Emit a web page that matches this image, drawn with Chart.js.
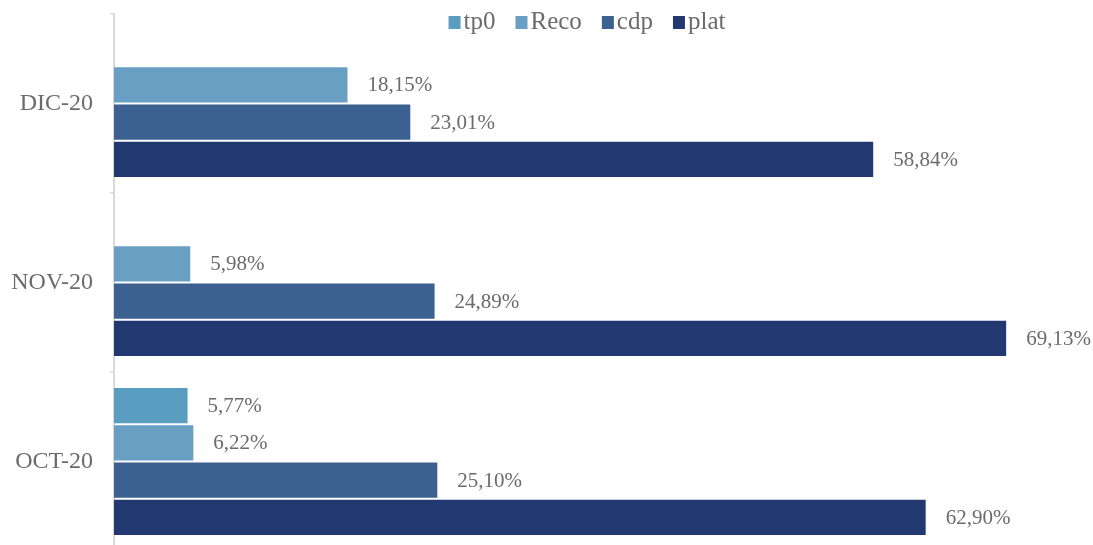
<!DOCTYPE html>
<html>
<head>
<meta charset="utf-8">
<script src="https://cdn.jsdelivr.net/npm/chart.js@4.4.1/dist/chart.umd.min.js"></script>
<style>
  html, body { margin: 0; padding: 0; background: #ffffff; width: 1093px; height: 545px; overflow: hidden; }
  #wrap { position: relative; width: 1093px; height: 552px; }
</style>
</head>
<body>
<div id="wrap"><canvas id="chart"></canvas></div>
<script>
// Monthly share per channel (%)
const months = ['DIC-20', 'NOV-20', 'OCT-20'];
const seriesNames = ['tp0', 'Reco', 'cdp', 'plat'];
const tp0 = [null, null, 5.77];
const reco = [18.15, 5.98, 6.22];
const cdp = [23.01, 24.89, 25.10];
const plat = [58.84, 69.13, 62.90];
const seriesColors = ['#5b9cc1', '#6a9fc4', '#3c608f', '#213970'];

const FONT = "'Liberation Serif', 'DejaVu Serif', serif";
const TEXT = '#6b6b6b';

function fmt(v) {
  return v.toFixed(2).replace('.', ',') + '%';
}

// Value labels just past the end of each bar
const valueLabels = {
  id: 'valueLabels',
  afterDatasetsDraw(chart) {
    const ctx = chart.ctx;
    ctx.save();
    ctx.font = '21px ' + FONT;
    ctx.fillStyle = TEXT;
    ctx.textAlign = 'left';
    ctx.textBaseline = 'middle';
    chart.data.datasets.forEach((ds, i) => {
      const meta = chart.getDatasetMeta(i);
      meta.data.forEach((bar, j) => {
        const v = ds.data[j];
        if (v === null || v === undefined) return;
        ctx.fillText(fmt(v), bar.x + 19, bar.y + 1);
      });
    });
    ctx.restore();
  }
};

// Compact legend laid over the top of the plot
const topLegend = {
  id: 'topLegend',
  afterDraw(chart) {
    const ctx = chart.ctx;
    ctx.save();
    ctx.font = '25px ' + FONT;
    ctx.textBaseline = 'middle';
    const box = 12, boxGap = 3, itemGap = 20;
    const items = chart.data.datasets.map(ds => ({
      label: ds.label, color: ds.backgroundColor, w: ctx.measureText(ds.label).width
    }));
    const total = items.reduce((s, it) => s + box + boxGap + it.w, 0) + itemGap * (items.length - 1);
    let x = 587 - total / 2;
    const cy = 22;
    items.forEach(it => {
      ctx.fillStyle = it.color;
      ctx.fillRect(x, cy - 6, box, box + 1);
      x += box + boxGap;
      ctx.fillStyle = TEXT;
      ctx.fillText(it.label, x, cy);
      x += it.w + itemGap;
    });
    ctx.restore();
  }
};

const values = [tp0, reco, cdp, plat];

new Chart(document.getElementById('chart'), {
  type: 'bar',
  data: {
    labels: months,
    datasets: seriesNames.map((name, i) => ({
      label: name,
      data: values[i],
      backgroundColor: seriesColors[i],
      borderColor: 'rgba(255,255,255,0.35)',
      borderWidth: 1,
      categoryPercentage: 0.832,
      barPercentage: 1.0
    }))
  },
  options: {
    indexAxis: 'y',
    responsive: true,
    maintainAspectRatio: false,
    animation: false,
    layout: { padding: { top: 14, bottom: 1, right: 10, left: 0 } },
    plugins: {
      legend: { display: false },
      tooltip: { enabled: false }
    },
    scales: {
      x: {
        display: false,
        min: 0,
        max: 75
      },
      y: {
        offset: true,
        afterFit(scale) {
          scale.width = 114;
          scale.paddingTop = 0;
          scale.paddingBottom = 0;
        },
        grid: {
          display: true,
          offset: true,
          drawOnChartArea: false,
          drawTicks: true,
          tickLength: 4,
          color: '#d9d9d9',
          lineWidth: 1.5
        },
        border: { display: true, color: '#d9d9d9', width: 2 },
        ticks: {
          padding: 17,
          color: TEXT,
          font: { family: FONT, size: 24 }
        }
      }
    }
  },
  plugins: [valueLabels, topLegend]
});
</script>
</body>
</html>
